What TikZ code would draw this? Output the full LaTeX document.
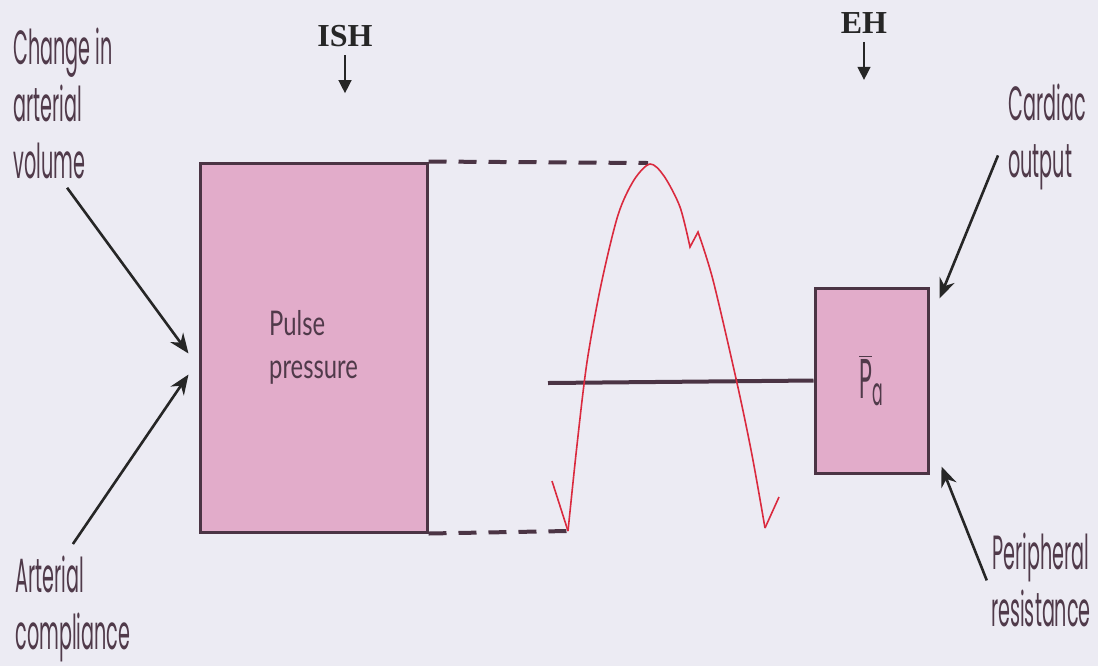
\documentclass[tikz,border=0pt]{standalone}
\usepackage{fontspec}
\newfontfamily\lblfont[FakeStretch=0.4]{Poppins}
\newfontfamily\boxfont[FakeStretch=0.7]{Lato}
\newfontfamily\tagfont{Liberation Serif}
\usetikzlibrary{arrows.meta,positioning}
\definecolor{bgc}{RGB}{236,235,243}
\definecolor{boxc}{RGB}{226,172,202}
\definecolor{edgec}{RGB}{75,52,68}
\definecolor{txtc}{RGB}{80,58,74}
\definecolor{wavec}{RGB}{218,42,62}

\begin{document}
\begin{tikzpicture}[x=0.5pt,y=-0.5pt,
  lbl/.style={font=\lblfont\fontsize{24}{28.5}\selectfont,text=txtc,align=left,inner sep=0pt},
  tag/.style={font=\tagfont\bfseries\fontsize{16}{18}\selectfont,text=black!85,inner sep=0pt},
  blk/.style={draw=edgec,fill=boxc,line width=1.5pt,inner sep=0pt},
  lnk/.style={line width=1.3pt,draw=black!85,-{Stealth[length=10pt,width=8pt]}},
  tagarr/.style={line width=0.7pt,draw=black!85,-{Triangle[length=6.5pt,width=6.5pt]}},
  lvl/.style={line width=2pt,draw=edgec,dash pattern=on 9pt off 6pt},
  wave/.style={line width=0.8pt,draw=wavec}]
  \fill[bgc] (0,0) rectangle (1098,666);
  \useasboundingbox (0,0) rectangle (1098,666);

  \node[blk,minimum width=113.5pt,minimum height=184.5pt,align=left,
        font=\boxfont\fontsize{17}{21.5}\selectfont,text=txtc] (pp) at (313.5,347.5) {Pulse\\pressure};
  \node[blk,minimum width=56.5pt,minimum height=92.5pt,lbl,font=\lblfont\fontsize{28}{30}\selectfont]
       (pa) at (871.5,380.5) {$\overline{\hbox{P}}$\textsubscript{a}};

  \node[lbl,anchor=north west] (chg) at (13,28) {Change in\\arterial\\volume};
  \node[lbl,anchor=north west] (comp) at (15,556) {Arterial\\compliance};
  \node[lbl,anchor=north west] (card) at (1008,84) {Cardiac\\output};
  \node[lbl,align=center,anchor=north] (per) at (1041,533) {Peripheral\\resistance};

  \node[tag] (ish) at (345,36) {ISH};
  \node[tag] (eh) at (864,23) {EH};
  \coordinate[below=23pt of ish] (ishtip);
  \coordinate[below=23pt of eh] (ehtip);
  \draw[tagarr] ([yshift=-4pt]ish.south) -- (ishtip);
  \draw[tagarr] ([yshift=-4pt]eh.south) -- (ehtip);

  \draw[lnk] ([shift={(4,8)}]chg.south) -- ([shift={(-10,6)}]pp.west);
  \draw[lnk] ([shift={(0,-12)}]comp.north) -- ([shift={(-10,27)}]pp.west);
  \draw[lnk] ([shift={(-10,18)}]card.west) -- ([shift={(10,12)}]pa.north east);
  \draw[lnk] ([shift={(-4,0)}]per.west) -- ([shift={(12,-8)}]pa.south east);

  \coordinate (peak) at (648,163);
  \coordinate (lo) at (568,531);
  \coordinate (ro) at (765,528);
  \coordinate (mbar) at (548,383);
  \draw[lvl] (pp.north east) -- (peak);
  \draw[lvl] (pp.south east) -- (lo);
  \draw[line width=2pt,draw=edgec] (mbar) -- (pa.west);

  \draw[wave] plot[smooth,tension=0.5] coordinates {(568,531) (577,445) (587,362) (601,285) (618,215) (634,180) (650,164) (664,176) (680,207) (690,247)}
    -- (698,232) -- plot[smooth,tension=0.5] coordinates {(698,232) (713,280) (737,383) (752,455) (765,528)};
  \draw[wave] (lo) -- (552,481);
  \draw[wave] (ro) -- (779,497);
\end{tikzpicture}
\end{document}
